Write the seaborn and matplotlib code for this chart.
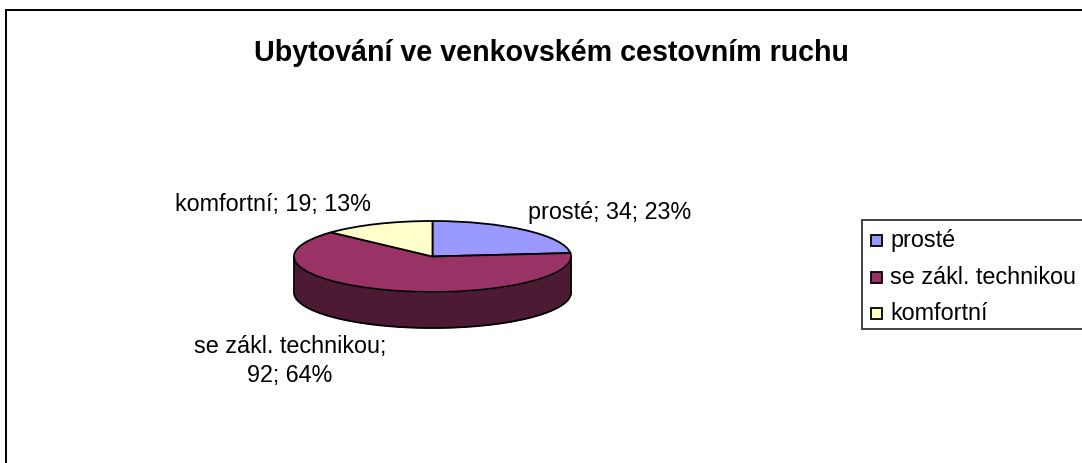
import numpy as np
import matplotlib
matplotlib.use("Agg")
import matplotlib.pyplot as plt
from matplotlib.patches import Rectangle
import seaborn as sns

categories = ["prosté", "se zákl. technikou", "komfortní"]
values = [34, 92, 19]
percents = [23, 64, 13]
top_colors = ["#9999FF", "#993366", "#FFFFCC"]
side_color = "#4D1A33"
frame_color = "#000000"
title_text = "Ubytování ve venkovském cestovním ruchu"

W, H = 1082, 463
sns.set_theme(style="white")
plt.rcParams["font.family"] = ["Liberation Sans", "DejaVu Sans"]

fig = plt.figure(figsize=(W / 100, H / 100), dpi=100, facecolor="white")


def px_box(left, top, right, bottom):
    return [left / W, 1 - bottom / H, (right - left) / W, (bottom - top) / H]


# Chart area border, running off the right and bottom edges
fig.add_artist(Rectangle((6 / W, -0.05), 1.1, 1.05 - 10 / H, transform=fig.transFigure,
                         fill=False, edgecolor=frame_color, linewidth=1.4))

fig.text(551 / W, 1 - 53 / H, title_text, ha="center", va="center",
         fontsize=20.6, fontweight="bold", color="black")

# Flattened pie: unit circle mapped onto the top ellipse
ax = fig.add_axes(px_box(294, 221, 571, 292))
wedges, _ = ax.pie(values, colors=top_colors, startangle=90, counterclock=False,
                   radius=1, wedgeprops={"edgecolor": "black", "linewidth": 1.3, "zorder": 3})
ax.set_aspect("auto")
ax.set_xlim(-1, 1)
ax.set_ylim(-1, 1)
ax.axis("off")
for w in wedges:
    w.set_clip_on(False)

# Rim of the disc along the front half
depth = 2 * 36 / 71
t = np.linspace(np.pi, 2 * np.pi, 200)
ax.fill_between(np.cos(t), np.sin(t), np.sin(t) - depth, color=side_color,
                linewidth=0, zorder=1, clip_on=False)
ax.plot(np.cos(t), np.sin(t) - depth, color="black", lw=1.3, zorder=2, clip_on=False)
for end in (-1, 1):
    ax.plot([end, end], [0, -depth], color="black", lw=1.3, zorder=2, clip_on=False)

# Data labels
label_pos = [(610, 212), (290, 361), (273, 205)]
label_text = [
    f"{categories[0]}; {values[0]}; {percents[0]}%",
    f"{categories[1]};\n{values[1]}; {percents[1]}%",
    f"{categories[2]}; {values[2]}; {percents[2]}%",
]
for (x, y), s in zip(label_pos, label_text):
    fig.text(x / W, 1 - y / H, s, ha="center", va="center", fontsize=16.8,
             color="black", linespacing=1.29, multialignment="center")

# Legend box, cut off by the right edge of the figure
fig.add_artist(Rectangle((862 / W, 1 - 329 / H), 0.3, 109 / H, transform=fig.transFigure,
                         facecolor="white", edgecolor="#404040", linewidth=1.4))
for i, (name, col) in enumerate(zip(categories, top_colors)):
    yc = 240.5 + i * 36.5
    fig.add_artist(Rectangle((871 / W, 1 - (yc + 5.5) / H), 11 / W, 11 / H,
                             transform=fig.transFigure, facecolor=col,
                             edgecolor="black", linewidth=1.3))
    fig.text(890.5 / W, 1 - yc / H, name, ha="left", va="center", fontsize=16.8, color="black")

fig.savefig("out.png", dpi=100)
